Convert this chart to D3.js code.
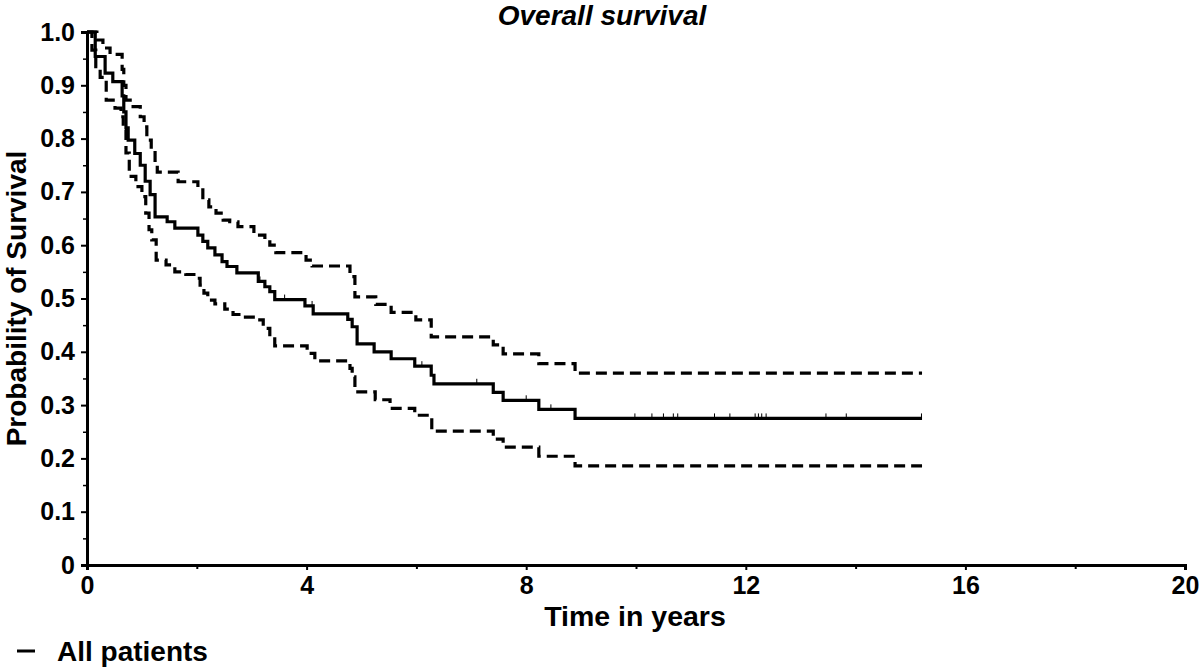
<!DOCTYPE html>
<html>
<head>
<meta charset="utf-8">
<script src="https://cdn.jsdelivr.net/npm/d3@7"></script>
<style>
  html, body { margin: 0; padding: 0; background: #fff; }
  svg { display: block; font-family: "Liberation Sans", Arial, sans-serif; }
</style>
</head>
<body>
<svg id="chart" width="1200" height="668"></svg>
<script>
// ---- Data ----
const survTime = [0, 0.15, 0.33, 0.47, 0.64, 0.67, 0.71, 0.75, 0.87, 0.97, 1.06, 1.15, 1.24, 1.46, 1.60, 2.02, 2.11, 2.20, 2.33, 2.46, 2.55, 2.73, 3.12, 3.24, 3.33, 3.42, 3.97, 4.12, 4.75, 4.83, 4.92, 5.23, 5.54, 5.97, 6.27, 6.32, 7.40, 7.58, 8.23, 8.89, 15.21];
const survEst  = [1.0, 0.954, 0.923, 0.907, 0.88, 0.85, 0.82, 0.797, 0.772, 0.75, 0.72, 0.695, 0.653, 0.644, 0.632, 0.619, 0.607, 0.595, 0.582, 0.569, 0.56, 0.548, 0.532, 0.522, 0.513, 0.498, 0.486, 0.471, 0.461, 0.447, 0.415, 0.400, 0.387, 0.373, 0.356, 0.340, 0.324, 0.309, 0.292, 0.275, 0.275];

const upperTime = [0, 0.18, 0.29, 0.42, 0.64, 0.67, 0.71, 0.84, 0.97, 1.04, 1.09, 1.17, 1.24, 1.28, 1.66, 2.02, 2.11, 2.22, 2.35, 2.48, 2.60, 2.75, 3.04, 3.24, 3.33, 3.44, 3.99, 4.10, 4.79, 4.88, 5.26, 5.54, 5.99, 6.27, 7.40, 7.58, 8.23, 8.89, 15.21];
const upperEst  = [1.0, 0.985, 0.97, 0.958, 0.93, 0.90, 0.872, 0.86, 0.841, 0.822, 0.797, 0.779, 0.754, 0.737, 0.719, 0.704, 0.685, 0.672, 0.66, 0.647, 0.644, 0.635, 0.619, 0.61, 0.60, 0.586, 0.572, 0.561, 0.541, 0.503, 0.489, 0.474, 0.46, 0.428, 0.413, 0.396, 0.378, 0.36, 0.36];

const lowerTime = [0, 0.09, 0.16, 0.24, 0.35, 0.51, 0.62, 0.66, 0.71, 0.77, 0.89, 1.00, 1.07, 1.13, 1.18, 1.26, 1.44, 1.60, 1.80, 1.99, 2.06, 2.13, 2.20, 2.33, 2.51, 2.66, 2.84, 3.06, 3.21, 3.33, 3.42, 4.01, 4.15, 4.79, 4.83, 4.88, 5.25, 5.52, 5.97, 6.28, 7.40, 7.58, 8.23, 8.89, 15.21];
const lowerEst  = [1.0, 0.966, 0.935, 0.915, 0.872, 0.857, 0.841, 0.816, 0.773, 0.729, 0.71, 0.691, 0.66, 0.629, 0.61, 0.572, 0.563, 0.55, 0.545, 0.538, 0.525, 0.51, 0.497, 0.49, 0.48, 0.47, 0.465, 0.46, 0.444, 0.428, 0.411, 0.397, 0.383, 0.369, 0.353, 0.325, 0.31, 0.294, 0.281, 0.251, 0.236, 0.221, 0.204, 0.186, 0.186];

const censorTimes = [3.15, 3.6, 4.1, 4.75, 6.1, 7.1, 8.0, 8.45, 9.98, 10.29, 10.50, 10.68, 10.76, 11.43, 11.71, 12.17, 12.23, 12.29, 12.37, 13.46, 13.83, 15.20];

const xMajorTicks = [0, 4, 8, 12, 16, 20];
const xMinorTicks = [2, 6, 10, 14, 18];
const yMajorTicks = [0, 0.1, 0.2, 0.3, 0.4, 0.5, 0.6, 0.7, 0.8, 0.9, 1.0];
const yMinorTicks = [0.05, 0.15, 0.25, 0.35, 0.45, 0.55, 0.65, 0.75, 0.85, 0.95];

const titleText = "Overall survival";
const xTitle = "Time in years";
const yTitle = "Probability of Survival";
const legendLabel = "All patients";

// ---- Drawing ----
const svg = d3.select("#chart");
const x = d3.scaleLinear().domain([0, 20]).range([87, 1185]);
const y = d3.scaleLinear().domain([0, 1]).range([565, 32]);

const zip = (t, v) => t.map((d, i) => [d, v[i]]);
const line = d3.line().x(d => x(d[0])).y(d => y(d[1])).curve(d3.curveStepAfter);

// curves
svg.append("path").datum(zip(upperTime, upperEst)).attr("d", line)
  .attr("fill", "none").attr("stroke", "#000").attr("stroke-width", 3.2)
  .attr("stroke-dasharray", "11,6");
svg.append("path").datum(zip(lowerTime, lowerEst)).attr("d", line)
  .attr("fill", "none").attr("stroke", "#000").attr("stroke-width", 3.2)
  .attr("stroke-dasharray", "11,6");
svg.append("path").datum(zip(survTime, survEst)).attr("d", line)
  .attr("fill", "none").attr("stroke", "#000").attr("stroke-width", 3.2);

// censor marks
const bis = d3.bisector(d => d).right;
svg.append("g").selectAll("line").data(censorTimes).join("line")
  .attr("x1", d => x(d)).attr("x2", d => x(d))
  .attr("y1", d => y(survEst[Math.max(0, bis(survTime, d) - 1)]))
  .attr("y2", d => y(survEst[Math.max(0, bis(survTime, d) - 1)]) - 5)
  .attr("stroke", "#000").attr("stroke-width", 1);

// axes
const xAxis = d3.axisBottom(x).tickValues(xMajorTicks).tickSize(5).tickPadding(6).tickFormat(d3.format("d"));
const gx = svg.append("g").attr("transform", `translate(0,${y(0)})`).call(xAxis);
gx.select(".domain").attr("stroke-width", 3);
gx.selectAll(".tick line").attr("stroke-width", 2);
gx.selectAll(".tick text").attr("font-size", 25).attr("font-weight", "bold")
  .attr("font-family", "Liberation Sans, Arial, sans-serif").attr("fill", "#000");
svg.append("g").attr("transform", `translate(0,${y(0)})`)
  .call(d3.axisBottom(x).tickValues(xMinorTicks).tickSize(4).tickFormat(""))
  .call(g => g.select(".domain").remove())
  .selectAll(".tick line").attr("stroke-width", 2);

const yAxis = d3.axisLeft(y).tickValues(yMajorTicks).tickSize(6).tickPadding(6)
  .tickFormat(d => d === 0 ? "0" : d3.format(".1f")(d));
const gy = svg.append("g").attr("transform", `translate(${x(0)},0)`).call(yAxis);
gy.select(".domain").attr("stroke-width", 3);
gy.selectAll(".tick line").attr("stroke-width", 2);
gy.selectAll(".tick text").attr("font-size", 25).attr("font-weight", "bold")
  .attr("font-family", "Liberation Sans, Arial, sans-serif").attr("fill", "#000");
svg.append("g").attr("transform", `translate(${x(0)},0)`)
  .call(d3.axisLeft(y).tickValues(yMinorTicks).tickSize(4).tickFormat(""))
  .call(g => g.select(".domain").remove())
  .selectAll(".tick line").attr("stroke-width", 1.5);

// titles
svg.append("text").attr("x", 602).attr("y", 25).attr("text-anchor", "middle")
  .attr("font-size", 28).attr("font-weight", "bold").attr("font-style", "italic")
  .text(titleText);
svg.append("text").attr("x", 635).attr("y", 626).attr("text-anchor", "middle")
  .attr("font-size", 28.5).attr("font-weight", "bold").text(xTitle);
svg.append("text").attr("transform", `translate(26,${y(0.5)}) rotate(-90)`)
  .attr("text-anchor", "middle").attr("font-size", 28).attr("font-weight", "bold").text(yTitle);

// legend
svg.append("line").attr("x1", 17).attr("x2", 35).attr("y1", 651).attr("y2", 651)
  .attr("stroke", "#000").attr("stroke-width", 3);
svg.append("text").attr("x", 57).attr("y", 661).attr("font-size", 28)
  .attr("font-weight", "bold").text(legendLabel);
</script>
</body>
</html>
